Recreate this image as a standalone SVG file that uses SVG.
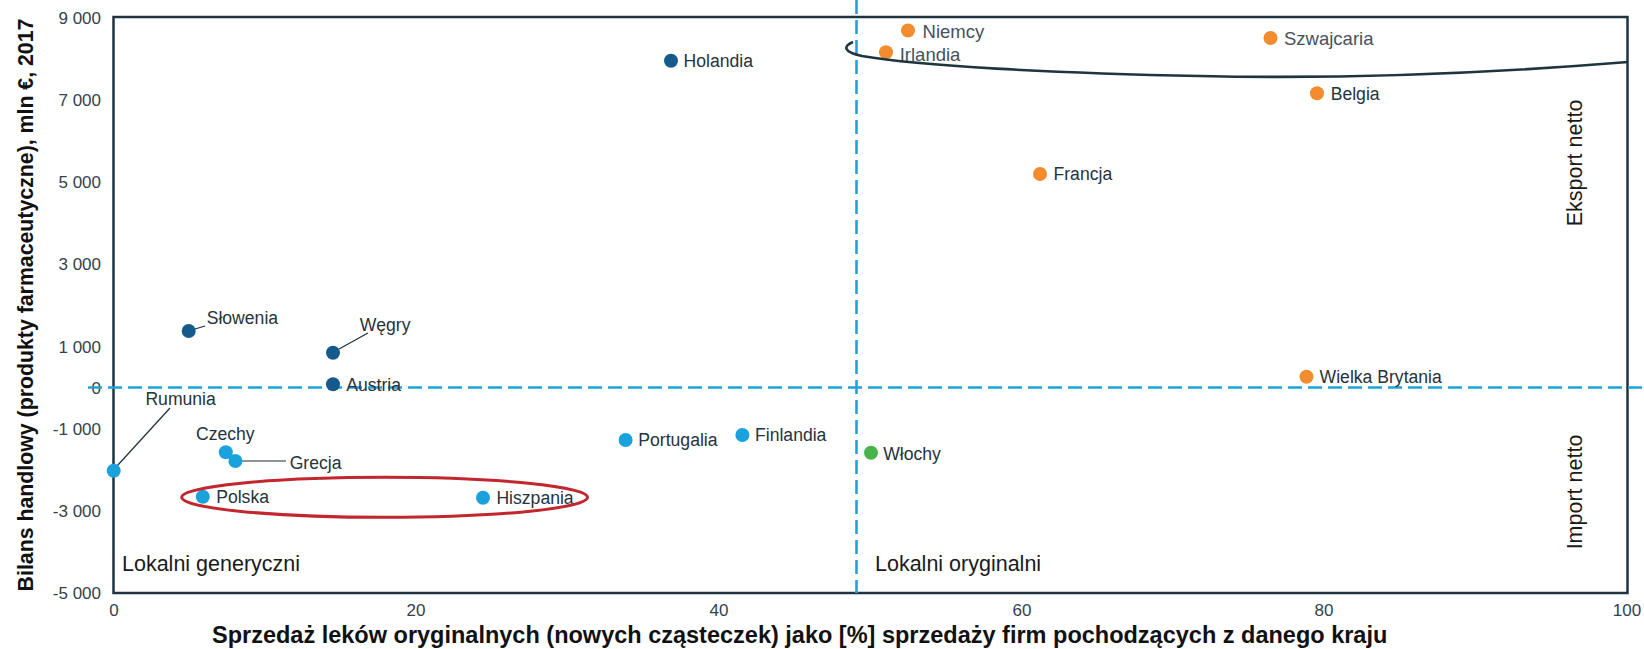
<svg xmlns="http://www.w3.org/2000/svg" width="1644" height="649" viewBox="0 0 1644 649">
<style>
text{font-family:"Liberation Sans",Arial,sans-serif}
.tick{font-size:17px;fill:#34424c}
.lbl{font-size:17.6px;fill:#26333c}
.lbl2{font-size:18.5px;fill:#46525c}
.quad{font-size:21.5px;fill:#1a1a1a}
.ttl{font-size:23.5px;font-weight:bold;fill:#111}
.ytl{font-size:21.3px;font-weight:bold;fill:#111}
.dark{fill:#155a8a}
.light{fill:#1aa2dd}
.orange{fill:#f38b2f}
.green{fill:#46b44a}
.dash{stroke:#1fa3dc;stroke-width:2.6;stroke-dasharray:14 6;fill:none}
.lead{stroke:#1f2c35;stroke-width:1.2;fill:none}
</style>
<rect width="1644" height="649" fill="#fff"/>
<g id="frame">
<rect x="113.5" y="17" width="1514" height="576" fill="none" stroke="#1f3440" stroke-width="2.5"/>
</g>
<g id="axes-labels">
<text class="tick" x="101" y="24" text-anchor="end">9 000</text>
<text class="tick" x="101" y="106" text-anchor="end">7 000</text>
<text class="tick" x="101" y="188" text-anchor="end">5 000</text>
<text class="tick" x="101" y="270" text-anchor="end">3 000</text>
<text class="tick" x="101" y="353" text-anchor="end">1 000</text>
<text class="tick" x="101" y="394" text-anchor="end">0</text>
<text class="tick" x="101" y="435" text-anchor="end">-1 000</text>
<text class="tick" x="101" y="517" text-anchor="end">-3 000</text>
<text class="tick" x="101" y="599" text-anchor="end">-5 000</text>
<text class="tick" x="114" y="616" text-anchor="middle">0</text>
<text class="tick" x="416" y="616" text-anchor="middle">20</text>
<text class="tick" x="719" y="616" text-anchor="middle">40</text>
<text class="tick" x="1022" y="616" text-anchor="middle">60</text>
<text class="tick" x="1324" y="616" text-anchor="middle">80</text>
<text class="tick" x="1627" y="616" text-anchor="middle">100</text>
<text class="ttl" x="212" y="643">Sprzedaż leków oryginalnych (nowych cząsteczek) jako [%] sprzedaży firm pochodzących z danego kraju</text>
<text class="ytl" transform="translate(33,305) rotate(-90)" text-anchor="middle">Bilans handlowy (produkty farmaceutyczne), mln €, 2017</text>
<text class="quad" transform="translate(1582,163) rotate(-90)" text-anchor="middle">Eksport netto</text>
<text class="quad" transform="translate(1582,492) rotate(-90)" text-anchor="middle">Import netto</text>
<text class="quad" x="122" y="571">Lokalni generyczni</text>
<text class="quad" x="875" y="571">Lokalni oryginalni</text>
</g>
<g id="dividers">
<line class="dash" x1="88" y1="387.5" x2="1644" y2="387.5"/>
<line class="dash" x1="856.5" y1="0" x2="856.5" y2="593"/>
</g>
<g id="connectors">
<line class="lead" x1="195" y1="329" x2="205" y2="326"/>
<line class="lead" x1="339" y1="349" x2="368" y2="333"/>
<line class="lead" x1="117" y1="466" x2="170" y2="408"/>
<line class="lead" x1="240" y1="461" x2="286" y2="461"/>
</g>
<g id="holandia"><circle class="dark" cx="671" cy="60.7" r="7"/><text class="lbl" x="683.5" y="67">Holandia</text></g>
<g id="niemcy"><circle class="orange" cx="908" cy="30.5" r="7"/><text class="lbl2" x="922.6" y="38">Niemcy</text></g>
<g id="irlandia"><circle class="orange" cx="886" cy="52.3" r="7"/><text class="lbl2" x="899.7" y="60.5">Irlandia</text></g>
<g id="szwajcaria"><circle class="orange" cx="1270.5" cy="38" r="7"/><text class="lbl2" x="1284" y="44.8">Szwajcaria</text></g>
<g id="belgia"><circle class="orange" cx="1317" cy="93.3" r="7"/><text class="lbl" x="1330.7" y="99.5">Belgia</text></g>
<g id="francja"><circle class="orange" cx="1040" cy="174" r="7"/><text class="lbl" x="1053.5" y="180.2">Francja</text></g>
<g id="wielka-brytania"><circle class="orange" cx="1306.5" cy="376.7" r="7"/><text class="lbl" x="1319.6" y="383">Wielka Brytania</text></g>
<g id="wlochy"><circle class="green" cx="871" cy="452.7" r="7"/><text class="lbl" x="883.2" y="459.5">Włochy</text></g>
<g id="finlandia"><circle class="light" cx="742.4" cy="435" r="7"/><text class="lbl" x="755" y="441.2">Finlandia</text></g>
<g id="portugalia"><circle class="light" cx="625.6" cy="440" r="7"/><text class="lbl" x="638.3" y="446.2">Portugalia</text></g>
<g id="hiszpania"><circle class="light" cx="483" cy="497.7" r="7"/><text class="lbl" x="496.4" y="504">Hiszpania</text></g>
<g id="polska"><circle class="light" cx="202.8" cy="496.7" r="7"/><text class="lbl" x="216.2" y="503">Polska</text></g>
<g id="czechy"><circle class="light" cx="225.8" cy="452.3" r="7"/><text class="lbl" x="196" y="440">Czechy</text></g>
<g id="grecja"><circle class="light" cx="235.4" cy="461" r="7"/><text class="lbl" x="289.7" y="469">Grecja</text></g>
<g id="rumunia"><circle class="light" cx="113.7" cy="470.7" r="7"/><text class="lbl" x="145.4" y="404.5">Rumunia</text></g>
<g id="austria"><circle class="dark" cx="333" cy="384.3" r="7"/><text class="lbl" x="346.3" y="391">Austria</text></g>
<g id="wegry"><circle class="dark" cx="333" cy="352.7" r="7"/><text class="lbl" x="359.7" y="331">Węgry</text></g>
<g id="slowenia"><circle class="dark" cx="188.7" cy="331" r="7"/><text class="lbl" x="206.7" y="324">Słowenia</text></g>
<g id="highlight-top">
<path d="M853,42 C843,46 843,52 862,56 C920,66 1050,73 1200,76 C1330,79 1480,74 1628,62" fill="none" stroke="#1e3440" stroke-width="2.6"/>
</g>
<g id="highlight-bottom">
<ellipse cx="384.6" cy="497.3" rx="203" ry="20" fill="none" stroke="#c1272d" stroke-width="3"/>
</g>
</svg>
